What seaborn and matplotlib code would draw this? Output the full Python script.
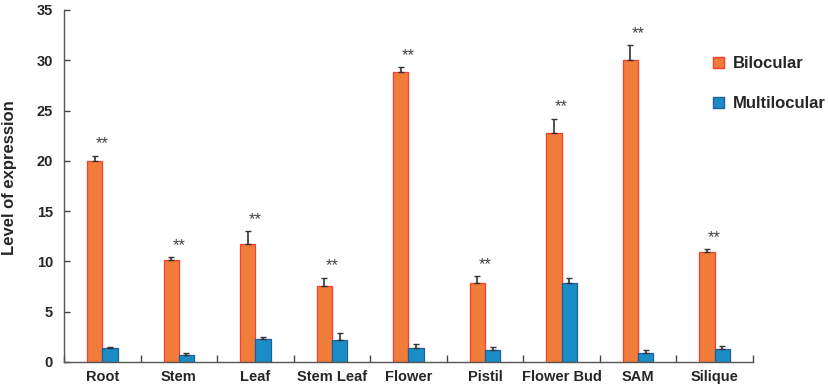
import numpy as np
import pandas as pd
import matplotlib
matplotlib.use("Agg")
import matplotlib.pyplot as plt
import seaborn as sns
from matplotlib.patches import Patch

# ---- data ----
tissues = ["Root", "Stem", "Leaf", "Stem Leaf", "Flower", "Pistil",
           "Flower Bud", "SAM", "Silique"]
bilocular = [20.0, 10.1, 11.7, 7.6, 28.8, 7.9, 22.8, 30.0, 10.9]
bilocular_err = [0.5, 0.3, 1.3, 0.8, 0.5, 0.6, 1.4, 1.5, 0.3]
multilocular = [1.4, 0.7, 2.3, 2.2, 1.4, 1.2, 7.9, 0.9, 1.3]
multilocular_err = [0.05, 0.2, 0.2, 0.7, 0.4, 0.3, 0.5, 0.3, 0.3]
groups = ["Bilocular", "Multilocular"]

df = pd.DataFrame({
    "tissue": tissues * 2,
    "group": [groups[0]] * len(tissues) + [groups[1]] * len(tissues),
    "value": bilocular + multilocular,
    "err": bilocular_err + multilocular_err,
})

fill = {"Bilocular": "#F07D3A", "Multilocular": "#1A8DC6"}
edge = {"Bilocular": "#FF3A2E", "Multilocular": "#1F5F9C"}

sns.set_style("ticks")
plt.rcParams["font.family"] = ["Liberation Sans", "DejaVu Sans"]
plt.rcParams["font.weight"] = "bold"

fig = plt.figure(figsize=(8.29, 3.86), dpi=100)
ax = fig.add_axes([0.0772, 0.0622, 0.831, 0.912])

sns.barplot(data=df, x="tissue", y="value", hue="group", order=tissues,
            hue_order=groups, palette=fill, width=0.4, gap=0, saturation=1,
            errorbar=None, legend=False, ax=ax)

# edges + one-sided error bars from the drawn bars
for g, container in zip(groups, ax.containers):
    sub = df[df.group == g].set_index("tissue").loc[tissues]
    xs, tops = [], []
    for bar in container:
        bar.set_edgecolor(edge[g])
        bar.set_linewidth(0.9)
        xs.append(bar.get_x() + bar.get_width() / 2)
        tops.append(bar.get_height())
    ax.errorbar(xs, tops, yerr=[np.zeros(len(xs)), sub["err"].values],
                fmt="none", ecolor="#333333", elinewidth=1.2, capsize=2,
                capthick=1.0, zorder=3)

# significance stars above each pair
for i, t in enumerate(tissues):
    top = bilocular[i] + bilocular_err[i]
    ax.text(i, top + 0.45, "**", ha="center", va="bottom", fontsize=12,
            color="#444444", fontweight="normal")

ax.set_xlim(-0.5, len(tissues) - 0.5)
ax.set_ylim(0, 35)
ax.set_yticks(np.arange(0, 36, 5))
ax.set_xlabel("")
ax.set_ylabel("Level of expression", fontsize=12, fontweight="bold")
ax.yaxis.set_label_coords(-0.068, 0.525)

ax.set_xticks(np.arange(len(tissues)))
ax.set_xticklabels(tissues, fontsize=10.5, fontweight="bold")
ax.set_xticks(np.arange(-0.5, len(tissues), 1.0), minor=True)
ax.tick_params(axis="x", which="major", length=0, pad=6)
ax.tick_params(axis="x", which="minor", direction="in", length=5,
               width=1, color="#444444")
ax.tick_params(axis="y", direction="in", length=4, width=1,
               color="#444444", labelsize=10.5, pad=8)
for lab in ax.get_yticklabels():
    lab.set_fontweight("bold")

sns.despine(ax=ax)
for s in ("left", "bottom"):
    ax.spines[s].set_color("#555555")
    ax.spines[s].set_linewidth(1.0)

handles = [Patch(facecolor=fill[g], edgecolor=edge[g], label=g) for g in groups]
ax.legend(handles=handles, loc="upper left", bbox_to_anchor=(0.852, 0.872),
          bbox_transform=fig.transFigure, frameon=False, handlelength=0.66,
          handleheight=0.66, handletextpad=0.54, labelspacing=1.5,
          borderaxespad=0, prop={"weight": "bold", "size": 12})

fig.savefig("out.png", dpi=100)
